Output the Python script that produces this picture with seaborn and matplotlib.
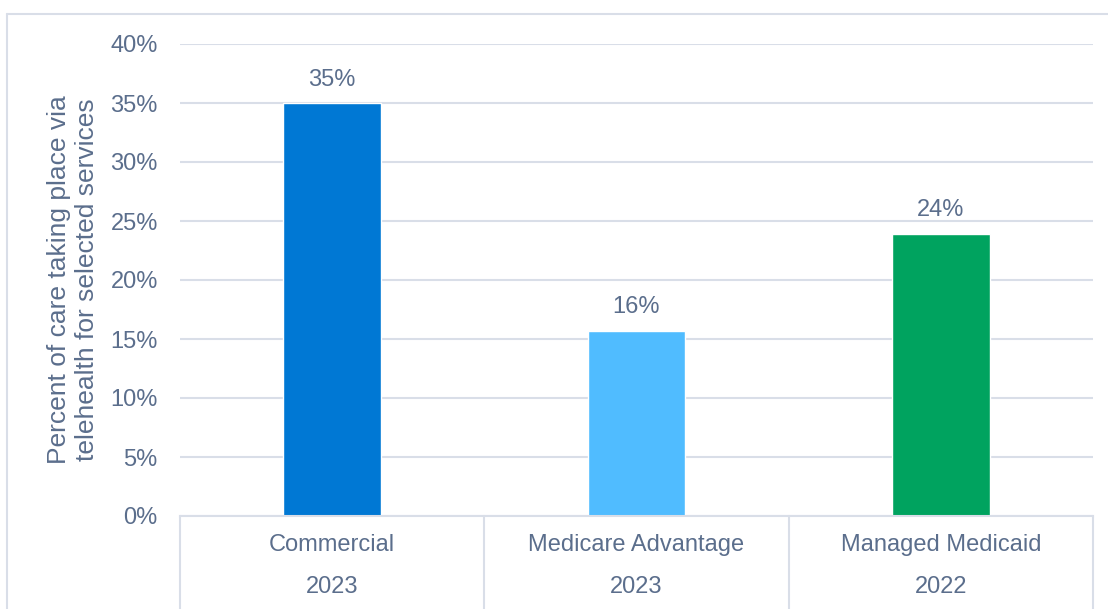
import pandas as pd
import seaborn as sns
from matplotlib import pyplot as plt
from matplotlib.lines import Line2D

categories = ['Commercial', 'Medicare Advantage', 'Managed Medicaid']
years = ['2023', '2023', '2022']
values = [35.0, 15.7, 23.9]
labels = ['35%', '16%', '24%']
colors = ['#0078D4', '#50BCFF', '#00A35F']

text_color = '#5B6E8C'
grid_color = '#D9DEE8'
fs = 17

sns.set_theme(style='white')
plt.rcParams['font.family'] = ['Liberation Sans', 'DejaVu Sans']

df = pd.DataFrame({'category': categories, 'value': values})

fig = plt.figure(figsize=(11.08, 6.09), dpi=100)
W, H = 1108, 609
ax = fig.add_axes([180 / W, (H - 516) / H, (1093 - 180) / W, (516 - 44) / H])

sns.barplot(data=df, x='category', y='value', hue='category',
            palette=colors, width=0.32, legend=False, ax=ax, saturation=1)

ax.set_ylim(0, 40)
ax.set_xlim(-0.5, 2.5)
ax.set_yticks(range(0, 45, 5))
ax.set_yticklabels([f'{t}%' for t in range(0, 45, 5)], fontsize=fs,
                   color=text_color)
ax.tick_params(axis='y', length=0, pad=16)
ax.set_xticks([])
ax.set_xlabel('')
ax.set_ylabel('Percent of care taking place via\ntelehealth for selected services',
              fontsize=19, color=text_color, labelpad=8, linespacing=1.2)
ax.yaxis.grid(True, color=grid_color, linewidth=1.5)
ax.set_axisbelow(True)
for s in ['top', 'right', 'left']:
    ax.spines[s].set_visible(False)
ax.spines['bottom'].set_color(grid_color)
ax.spines['bottom'].set_linewidth(1.5)

for bar, lab in zip(ax.patches, labels):
    ax.annotate(lab, (bar.get_x() + bar.get_width() / 2, bar.get_height()),
                xytext=(0, 9), textcoords='offset points', ha='center',
                va='bottom', fontsize=fs, color=text_color)

# category table under the axis
trans = ax.get_xaxis_transform()
for xb in [-0.5, 0.5, 1.5, 2.5]:
    ax.add_line(Line2D([xb, xb], [0, -0.2], transform=trans, color=grid_color,
                       linewidth=1.5, clip_on=False))
for i, (c, y) in enumerate(zip(categories, years)):
    ax.text(i, (516 - 545) / 472, c, transform=trans, ha='center', va='center',
            fontsize=fs, color=text_color)
    ax.text(i, (516 - 587) / 472, y, transform=trans, ha='center', va='center',
            fontsize=fs, color=text_color)

# outer frame
fig.add_artist(Line2D([7 / W, 7 / W], [0, (H - 14) / H], color=grid_color,
                      linewidth=1.5))
fig.add_artist(Line2D([7 / W, 1], [(H - 14) / H, (H - 14) / H],
                      color=grid_color, linewidth=1.5))

fig.savefig('out.png', dpi=100)
